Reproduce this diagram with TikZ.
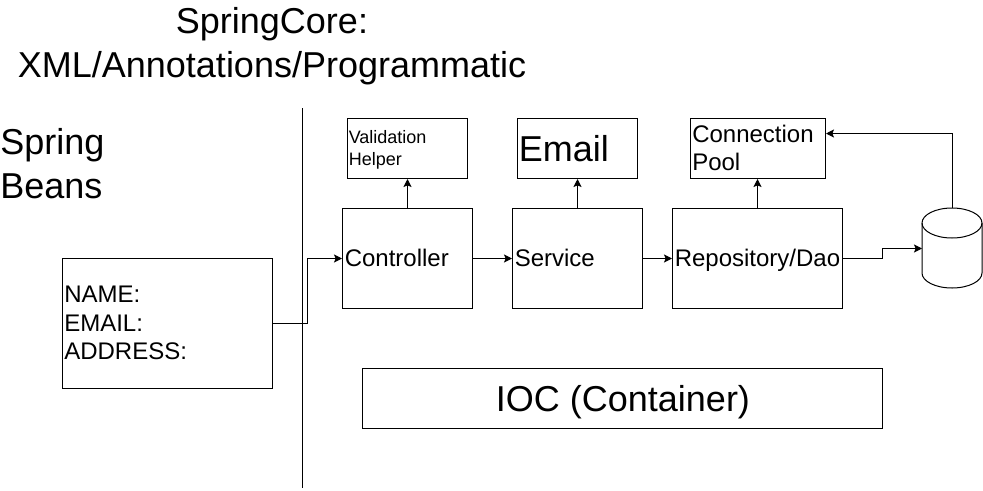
\documentclass[tikz,border=0pt]{standalone}
\usepackage{fontspec}
\setmainfont{Liberation Sans}
\usetikzlibrary{calc, positioning, arrows.meta, shapes.geometric}
\tikzset{
	boxnode/.style = {draw = black, rectangle, line width=0.75pt, inner sep=0pt, anchor=north west},
	txtnode/.style = {anchor=west, inner sep=0pt, align=left},
	basenode/.style = {anchor=base west, inner sep=0pt},
	conn/.style = {line width=0.75pt, -{Stealth[length=6pt,width=6pt,inset=1.2pt]}}
}
\begin{document}
\begin{tikzpicture}[x=0.75pt,y=-0.75pt]
	\useasboundingbox (1,1) rectangle (984,491);
	\node (title) [font=\fontsize{27}{33}\selectfont, align=center] at (273,47.5){SpringCore:\\XML/Annotations/Programmatic};
	\node (beans) [txtnode, font=\fontsize{27}{33}\selectfont] at (1,165){Spring\\Beans};

	\coordinate (top) at (303.5,109);
	\coordinate (bot) at (303.5,489);
	\draw[line width=0.75pt] (top)--(bot);

	\node (form) [boxnode, minimum width=157.5pt, minimum height=97.5pt] at (63,259){};
	\node (formtxt) [txtnode, font=\fontsize{18}{21.5}\selectfont] at (65,324){NAME:\\EMAIL:\\ADDRESS:};

	\node (ctrl) [boxnode, minimum width=97.5pt, minimum height=75pt] at (343,209){};
	\node (serv) [boxnode, minimum width=97.5pt, minimum height=75pt] at (513,209){};
	\node (repo) [boxnode, minimum width=127.5pt, minimum height=75pt] at (673,209){};
	\node (ctrltxt) [basenode, font=\fontsize{18}{21.5}\selectfont] at (345.5,267){Controller};
	\node (servtxt) [basenode, font=\fontsize{18}{21.5}\selectfont] at (515.5,267){Service};
	\node (repotxt) [basenode, font=\fontsize{18}{21.5}\selectfont] at (675.5,267){Repository/Dao};

	\node (valid) [boxnode, minimum width=90pt, minimum height=45pt] at (348,119){};
	\node (email) [boxnode, minimum width=90pt, minimum height=45pt] at (518,119){};
	\node (pool) [boxnode, minimum width=101.25pt, minimum height=45pt] at (691,119){};
	\node (validtxt) [txtnode, font=\fontsize{13.5}{16.5}\selectfont] at (349.5,151){Validation\\Helper};
	\node (emailtxt) [txtnode, font=\fontsize{27}{33}\selectfont] at (519.5,150){Email};
	\node (pooltxt) [txtnode, font=\fontsize{18}{21.5}\selectfont] at (693,149){Connection\\Pool};

	\node (ioc) [boxnode, minimum width=390pt, minimum height=45pt] at (363,369){};
	\node (ioctxt) [font=\fontsize{27}{33}\selectfont] at (624,403){IOC (Container)};

	% cylinder
	\draw[line width=0.75pt] (923,224) arc[start angle=180, end angle=360, x radius=30, y radius=15]
		-- (983,274) arc[start angle=0, end angle=180, x radius=30, y radius=15] -- cycle;
	\draw[line width=0.75pt] (923,224) arc[start angle=180, end angle=0, x radius=30, y radius=15];
	\coordinate (dbtop) at (953.5,209);
	\coordinate (dbleft) at (923,249);

	\draw[conn] (form.east |- 0,324.5) -- (308,324.5) -- (308,259.5) -- (ctrl.west |- 0,259.5);
	\draw[conn] (ctrl.east |- 0,259.5) -- (serv.west |- 0,259.5);
	\draw[conn] (serv.east |- 0,259.5) -- (repo.west |- 0,259.5);
	\draw[conn] (repo.east |- 0,259.5) -- (883.5,259.5) -- (883.5,249.5) -- (dbleft |- 0,249.5);
	\draw[conn] (ctrl.north -| 408.5,0) -- (valid.south -| 408.5,0);
	\draw[conn] (serv.north -| 578.5,0) -- (email.south -| 578.5,0);
	\draw[conn] (repo.north -| 758.5,0) -- (pool.south -| 758.5,0);
	\draw[conn] (dbtop) -- (953.5,134.5) -- (pool.east |- 0,134.5);
\end{tikzpicture}
\end{document}
